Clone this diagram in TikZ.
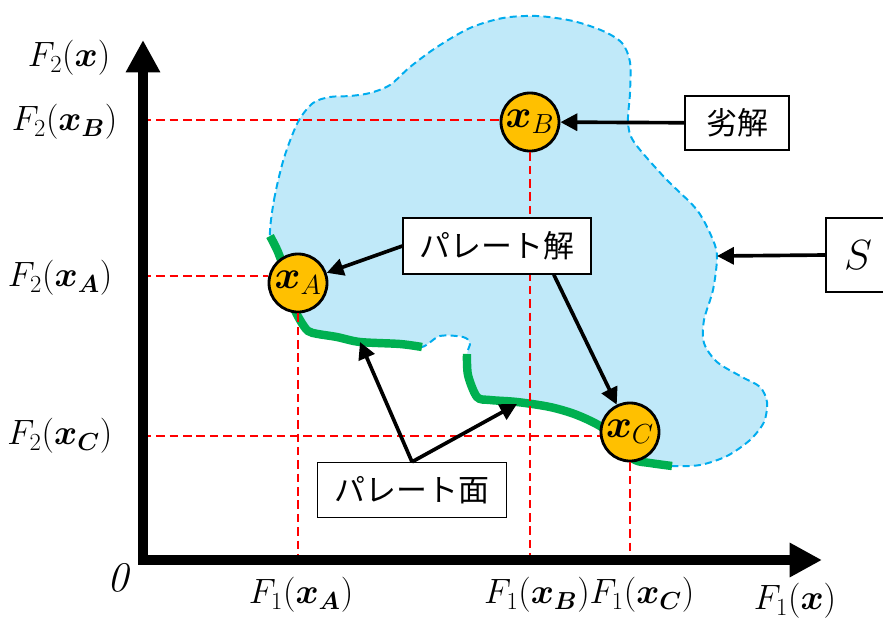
\RequirePackage{fix-cm}
\documentclass[tikz,border=0pt]{standalone}
\usepackage{amsmath}
\usepackage{amssymb}
\usepackage{fontspec}
\newfontfamily\jpfont{Noto Sans CJK JP}
\usepackage{xcolor}
\usetikzlibrary{arrows.meta, calc}
\definecolor{regionblue}{RGB}{192, 233, 249}
\definecolor{edgeblue}{RGB}{0, 172, 238}
\definecolor{frontgreen}{RGB}{0, 176, 80}
\definecolor{solorange}{RGB}{255, 192, 0}

\begin{document}
\begin{tikzpicture}[
    x=0.025cm, y=-0.025cm,
    sol/.style={circle, draw=black, line width=2pt, fill=solorange,
                minimum size=1.45cm, inner sep=0pt, font=\fontsize{28}{32}\selectfont},
    tag/.style={rectangle, draw=black, line width=0.9pt, fill=white, inner sep=0pt,
                align=center, font=\fontsize{22}{26}\selectfont\jpfont},
    lab/.style={inner sep=1pt, font=\fontsize{25}{29}\selectfont},
    region/.style={fill=regionblue, draw=edgeblue, line width=1.4pt, dash pattern=on 5pt off 3pt},
    front/.style={frontgreen, line width=6pt},
    guide/.style={red, line width=0.8pt, dash pattern=on 6pt off 3.5pt},
    ptr/.style={-{Triangle[length=12pt, width=12pt]}, line width=2.6pt},
    ax/.style={line width=7pt, {Triangle[length=23pt, width=23pt]}-{Triangle[length=23pt, width=23pt]}}
]
\useasboundingbox (0,0) rectangle (883,619);
\clip (0,0) rectangle (883,619);

% feasible region S
\draw[region] plot[smooth cycle, tension=0.5] coordinates {
    (270,236) (274,200) (284,158) (298,122) (313,103) (330,97) (350,96) (370,93)
    (390,85) (410,67) (437,47) (470,28) (503,18) (537,16) (573,21) (603,31)
    (622,43) (630,62) (630,93) (628,122) (634,142) (665,178) (697,210) (713,240)
    (717,258) (713,290) (704,320) (704,343) (717,362) (742,377) (760,387) (767,402)
    (764,422) (750,440) (727,456) (700,465) (672,466) (650,463) (635,460) (620,447)
    (603,428) (577,415) (550,407) (517,402) (490,400) (477,397) (468,375) (467,354)
    (470,343) (463,337) (440,336) (422,347) (400,344) (360,342) (337,337) (318,334)
    (308,331) (300,320) (293,305) (286,275) (278,252)};

% pareto front
\draw[front] plot[smooth, tension=0.5] coordinates {
    (270,236) (278,252) (286,275) (293,305) (300,320) (308,331) (318,334)
    (337,337) (360,342) (400,344) (422,347)};
\draw[front] plot[smooth, tension=0.5] coordinates {
    (467,354) (468,375) (477,397) (490,400) (517,402) (550,407) (577,415)
    (603,428) (620,447) (635,460) (650,463) (672,466)};

\coordinate (o) at (143,560);
\coordinate (ya) at (143,276);
\coordinate (yb) at (143,120);
\coordinate (yc) at (143,436);
\coordinate (sedge) at (717,256);
\coordinate (pf1) at (360,342);
\coordinate (pf2) at (517,404);

\node[sol] (xa) at (298,283) {$\boldsymbol{x}_A$};
\node[sol] (xb) at (530,122) {$\boldsymbol{x}_B$};
\node[sol] (xc) at (630,432) {$\boldsymbol{x}_C$};

\draw[guide] (ya) -- (ya -| xa.west);
\draw[guide] (yb) -- (yb -| xb.west);
\draw[guide] (yc) -- (yc -| xc.west);
\draw[guide] (xa.south) -- (xa |- o);
\draw[guide] (xb.south) -- (xb |- o);
\draw[guide] (xc.south) -- (xc |- o);

\node[tag, minimum width=2.6cm, minimum height=1.35cm] (worse) at (737,123) {劣解};
\node[tag, minimum width=4.7cm, minimum height=1.4cm] (psol) at (497,246) {パレート解};
\node[tag, minimum width=4.725cm, minimum height=1.375cm] (pface) at (412,490) {パレート面};
\node[tag, minimum width=1.6cm, minimum height=1.85cm, font=\fontsize{30}{34}\selectfont] (sset) at (858,255) {$S$};

\draw[ptr] (worse) -- (xb);
\draw[ptr] (sset.west) -- (sedge);
\draw[ptr] (psol.west) -- (xa);
\draw[ptr] ($(psol.south)!0.6!(psol.south east)$) -- (xc);
\draw[ptr] (pface.north) -- (pf1);
\draw[ptr] (pface.north) -- (pf2);

% axes
\draw[ax] (143,40) -- (o) -- (822,560);

\node[lab, anchor=east] (f2x) at (112,58) {$F_2(\boldsymbol{x})$};
\node[lab, anchor=east] (f2xb) at (119,122) {$F_2(\boldsymbol{x_B})$};
\node[lab, anchor=east] (f2xa) at (114,278) {$F_2(\boldsymbol{x_A})$};
\node[lab, anchor=east] (f2xc) at (114,436) {$F_2(\boldsymbol{x_C})$};
\node[lab, font=\fontsize{30}{34}\selectfont] (orig) at (119,578) {\textit{0}};
\node[lab] (f1xa) at (301,595) {$F_1(\boldsymbol{x_A})$};
\node[lab] (f1xb) at (537,595) {$F_1(\boldsymbol{x_B})$};
\node[lab] (f1xc) at (642,595) {$F_1(\boldsymbol{x_C})$};
\node[lab] (f1x) at (795,601) {$F_1(\boldsymbol{x})$};
\end{tikzpicture}
\end{document}
